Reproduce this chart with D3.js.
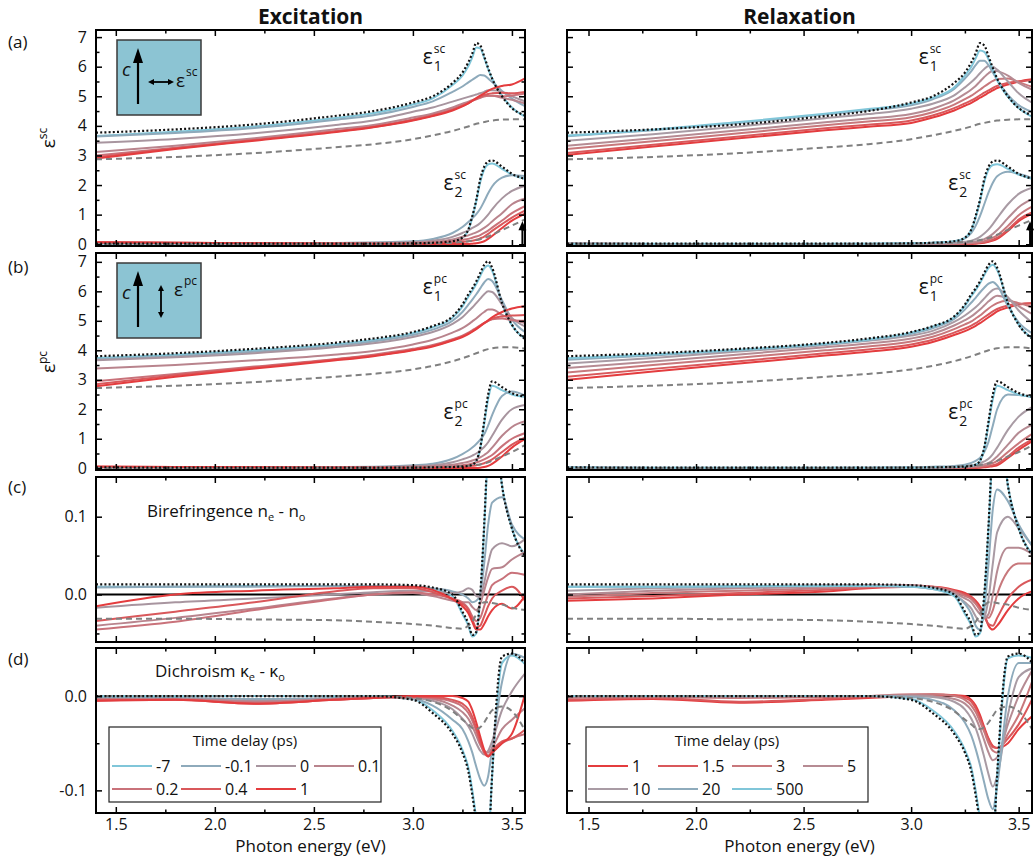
<!DOCTYPE html>
<html>
<head>
<meta charset="utf-8">
<script src="https://cdn.jsdelivr.net/npm/d3@7"></script>
<style>
  body { margin: 0; background: #fff; }
  svg text { font-family: "Open Sans", "DejaVu Sans", sans-serif; fill: #111; }
</style>
</head>
<body>
<svg id="chart" width="1035" height="856"></svg>
<script>
// photon energy grid (eV), shared by every curve
const energy = [1.4, 1.8, 2.2, 2.6, 2.8, 3.0, 3.1, 3.2, 3.25, 3.28, 3.3, 3.32, 3.34, 3.36, 3.38, 3.4, 3.45, 3.5, 3.57];

const excDelays = ['-7', '-0.1', '0', '0.1', '0.2', '0.4', '1'];
const relDelays = ['1', '1.5', '3', '5', '10', '20', '500'];
const excColors = ['#80c6d9', '#8eaabb', '#a8959f', '#b9848d', '#c9727a', '#d9585b', '#e43c3e'];
const relColors = ['#e43c3e', '#d9585b', '#c8787c', '#b68b93', '#a99ba4', '#8eabbc', '#80c6d9'];

// equilibrium (dotted black)
const eqS1 = [3.77, 3.88, 4.05, 4.33, 4.5, 4.79, 5.0, 5.45, 5.8, 6.15, 6.45, 6.8, 6.72, 6.35, 5.95, 5.6, 5.0, 4.6, 4.35];
const eqS2 = [0.02, 0.02, 0.02, 0.02, 0.02, 0.03, 0.05, 0.1, 0.22, 0.5, 0.95, 1.5, 2.2, 2.62, 2.8, 2.83, 2.62, 2.38, 2.2];
const eqP1 = [3.8, 3.9, 4.05, 4.25, 4.4, 4.62, 4.82, 5.15, 5.55, 5.9, 6.1, 6.34, 6.62, 6.9, 7.02, 6.8, 5.6, 4.87, 4.36];
const eqP2 = [0.03, 0.02, 0.02, 0.02, 0.02, 0.02, 0.03, 0.04, 0.06, 0.08, 0.12, 0.25, 0.7, 1.6, 2.5, 2.95, 2.75, 2.55, 2.42];
const eqBi = [0.013, 0.013, 0.013, 0.013, 0.013, 0.012, 0.009, 0.0, -0.022, -0.037, -0.052, -0.048, 0.0, 0.09, 0.2, 0.26, 0.14, 0.085, 0.048];
const eqDi = [0, 0, 0, 0, 0, -0.004, -0.018, -0.04, -0.06, -0.08, -0.105, -0.135, -0.17, -0.2, -0.17, -0.083, 0.042, 0.045, 0.034];

// hot reference (dashed grey)
const refS1 = [2.87, 2.95, 3.08, 3.27, 3.38, 3.55, 3.68, 3.83, 3.92, 3.98, 4.03, 4.07, 4.1, 4.13, 4.16, 4.18, 4.21, 4.22, 4.22];
const refS2 = [0.01, 0.01, 0.01, 0.01, 0.01, 0.02, 0.03, 0.05, 0.08, 0.1, 0.12, 0.14, 0.17, 0.21, 0.26, 0.32, 0.48, 0.63, 0.85];
const refP1 = [2.72, 2.8, 2.92, 3.1, 3.2, 3.35, 3.47, 3.63, 3.73, 3.8, 3.85, 3.9, 3.95, 4.0, 4.04, 4.07, 4.1, 4.1, 4.05];
const refP2 = [0.01, 0.01, 0.01, 0.01, 0.01, 0.02, 0.03, 0.05, 0.07, 0.08, 0.09, 0.11, 0.13, 0.16, 0.2, 0.25, 0.4, 0.55, 0.8];
const refBi = [-0.031, -0.031, -0.032, -0.033, -0.035, -0.038, -0.04, -0.043, -0.044, -0.04, -0.035, -0.025, -0.015, -0.01, -0.01, -0.011, -0.013, -0.017, -0.02];
const refDi = [0, 0, 0, 0, 0, -0.002, -0.006, -0.016, -0.025, -0.03, -0.034, -0.035, -0.033, -0.028, -0.021, -0.015, -0.011, -0.016, -0.038];

// excitation, one row per delay in excDelays order
const excS1 = [
  [3.66, 3.8, 3.98, 4.26, 4.43, 4.72, 4.93, 5.38, 5.7, 6.02, 6.32, 6.65, 6.62, 6.3, 5.92, 5.6, 5.02, 4.62, 4.3],
  [3.64, 3.76, 3.93, 4.2, 4.36, 4.64, 4.83, 5.15, 5.33, 5.47, 5.56, 5.65, 5.72, 5.7, 5.6, 5.48, 5.18, 4.92, 4.65],
  [3.43, 3.56, 3.75, 4.02, 4.18, 4.48, 4.62, 4.82, 4.92, 4.98, 5.02, 5.06, 5.1, 5.15, 5.2, 5.2, 5.15, 5.0, 4.82],
  [3.12, 3.33, 3.58, 3.88, 4.03, 4.28, 4.42, 4.62, 4.75, 4.82, 4.87, 4.92, 4.96, 5.0, 5.02, 5.02, 4.95, 4.88, 4.75],
  [3.0, 3.26, 3.53, 3.82, 3.98, 4.22, 4.37, 4.56, 4.7, 4.78, 4.85, 4.9, 4.95, 5.0, 5.02, 5.02, 5.0, 5.03, 5.1],
  [2.94, 3.24, 3.52, 3.8, 3.96, 4.2, 4.35, 4.54, 4.68, 4.77, 4.85, 4.92, 4.98, 5.04, 5.08, 5.1, 5.12, 5.1, 5.15],
  [2.9, 3.22, 3.5, 3.78, 3.95, 4.18, 4.33, 4.52, 4.66, 4.76, 4.85, 4.94, 5.02, 5.1, 5.18, 5.25, 5.35, 5.4, 5.62]
];
const excS2 = [
  [0.02, 0.02, 0.02, 0.02, 0.02, 0.03, 0.05, 0.1, 0.22, 0.48, 0.9, 1.45, 2.1, 2.52, 2.7, 2.73, 2.55, 2.35, 2.2],
  [0.03, 0.03, 0.03, 0.04, 0.06, 0.1, 0.18, 0.38, 0.58, 0.75, 0.88, 1.02, 1.2, 1.45, 1.72, 1.95, 2.25, 2.33, 2.3],
  [0.04, 0.03, 0.03, 0.04, 0.05, 0.07, 0.12, 0.25, 0.38, 0.47, 0.55, 0.62, 0.72, 0.85, 1.0, 1.18, 1.55, 1.8, 1.98],
  [0.05, 0.04, 0.03, 0.03, 0.04, 0.05, 0.08, 0.16, 0.25, 0.3, 0.35, 0.4, 0.47, 0.55, 0.65, 0.77, 1.05, 1.35, 1.55],
  [0.06, 0.05, 0.03, 0.02, 0.02, 0.03, 0.05, 0.1, 0.15, 0.18, 0.22, 0.26, 0.31, 0.38, 0.46, 0.56, 0.8, 1.05, 1.3],
  [0.07, 0.05, 0.03, 0.02, 0.02, 0.02, 0.03, 0.05, 0.08, 0.1, 0.12, 0.15, 0.2, 0.26, 0.35, 0.45, 0.68, 0.9, 1.15],
  [0.07, 0.05, 0.03, 0.02, 0.01, 0.01, 0.01, 0.01, 0.01, 0.01, 0.02, 0.03, 0.06, 0.1, 0.18, 0.28, 0.55, 0.8, 1.05]
];
const excP1 = [
  [3.74, 3.85, 4.0, 4.2, 4.35, 4.58, 4.78, 5.1, 5.48, 5.82, 6.02, 6.25, 6.52, 6.78, 6.88, 6.7, 5.58, 4.85, 4.38],
  [3.7, 3.8, 3.95, 4.15, 4.3, 4.52, 4.7, 5.0, 5.3, 5.55, 5.72, 5.9, 6.1, 6.3, 6.42, 6.35, 5.7, 5.05, 4.6],
  [3.66, 3.76, 3.9, 4.1, 4.24, 4.45, 4.62, 4.9, 5.12, 5.32, 5.45, 5.6, 5.75, 5.9, 6.0, 5.98, 5.55, 5.1, 4.8],
  [3.38, 3.5, 3.66, 3.85, 3.98, 4.2, 4.36, 4.6, 4.75, 4.88, 4.98, 5.08, 5.2, 5.3, 5.38, 5.38, 5.2, 5.05, 4.92],
  [2.95, 3.2, 3.45, 3.7, 3.85, 4.05, 4.18, 4.38, 4.5, 4.6, 4.68, 4.76, 4.85, 4.93, 5.0, 5.05, 5.08, 5.02, 5.0],
  [2.85, 3.15, 3.42, 3.68, 3.82, 4.02, 4.15, 4.35, 4.47, 4.57, 4.65, 4.74, 4.83, 4.92, 5.0, 5.07, 5.15, 5.18, 5.2],
  [2.78, 3.1, 3.38, 3.65, 3.8, 4.0, 4.13, 4.33, 4.45, 4.55, 4.63, 4.72, 4.82, 4.92, 5.02, 5.12, 5.3, 5.42, 5.5]
];
const excP2 = [
  [0.03, 0.02, 0.02, 0.02, 0.02, 0.02, 0.03, 0.04, 0.06, 0.08, 0.12, 0.24, 0.65, 1.5, 2.35, 2.8, 2.65, 2.5, 2.42],
  [0.03, 0.03, 0.03, 0.04, 0.05, 0.1, 0.15, 0.32, 0.48, 0.6, 0.7, 0.82, 0.97, 1.15, 1.45, 1.8, 2.45, 2.6, 2.45],
  [0.03, 0.03, 0.03, 0.03, 0.04, 0.07, 0.1, 0.2, 0.3, 0.37, 0.43, 0.5, 0.6, 0.72, 0.88, 1.1, 1.65, 2.0, 2.15],
  [0.03, 0.03, 0.03, 0.03, 0.03, 0.05, 0.07, 0.12, 0.18, 0.22, 0.26, 0.31, 0.37, 0.45, 0.55, 0.7, 1.1, 1.4, 1.6],
  [0.04, 0.03, 0.03, 0.02, 0.02, 0.03, 0.04, 0.06, 0.1, 0.13, 0.16, 0.2, 0.24, 0.3, 0.37, 0.45, 0.75, 1.0, 1.2],
  [0.05, 0.04, 0.03, 0.02, 0.02, 0.02, 0.02, 0.03, 0.05, 0.06, 0.08, 0.1, 0.13, 0.17, 0.23, 0.3, 0.55, 0.8, 1.05],
  [0.06, 0.04, 0.03, 0.02, 0.01, 0.01, 0.01, 0.01, 0.01, 0.01, 0.01, 0.01, 0.02, 0.04, 0.08, 0.15, 0.4, 0.7, 1.0]
];
const excBi = [
  [0.01, 0.01, 0.011, 0.011, 0.011, 0.01, 0.007, -0.002, -0.025, -0.04, -0.054, -0.05, -0.005, 0.085, 0.19, 0.25, 0.14, 0.085, 0.05],
  [0.009, 0.01, 0.01, 0.011, 0.011, 0.01, 0.008, 0.004, 0.0, -0.005, -0.01, -0.008, 0.0, 0.04, 0.09, 0.118, 0.125, 0.09, 0.07],
  [-0.017, -0.01, -0.005, 0.0, 0.003, 0.005, 0.004, 0.002, 0.004, 0.008, 0.006, -0.002, -0.003, 0.015, 0.04, 0.058, 0.066, 0.062, 0.072],
  [-0.04, -0.03, -0.018, -0.005, 0.0, 0.002, -0.002, -0.008, -0.01, -0.01, -0.016, -0.02, -0.012, 0.005, 0.022, 0.033, 0.035, 0.045, 0.055],
  [-0.045, -0.035, -0.02, -0.006, 0.0, 0.003, 0.0, -0.005, -0.01, -0.018, -0.028, -0.034, -0.03, -0.015, 0.0, 0.012, 0.02, 0.028, 0.025],
  [-0.034, -0.022, -0.01, 0.004, 0.008, 0.008, 0.003, -0.006, -0.012, -0.02, -0.032, -0.042, -0.04, -0.028, -0.015, -0.005, 0.005, 0.01, -0.01],
  [-0.015, 0.0, 0.005, 0.008, 0.01, 0.01, 0.006, -0.006, -0.015, -0.024, -0.035, -0.045, -0.045, -0.038, -0.028, -0.02, -0.012, -0.018, 0.0]
];
const excDi = [
  [0, 0, 0, 0, 0, -0.003, -0.015, -0.037, -0.057, -0.076, -0.1, -0.13, -0.16, -0.18, -0.16, -0.085, 0.035, 0.043, 0.033],
  [-0.002, -0.002, -0.003, -0.002, -0.001, -0.003, -0.01, -0.025, -0.035, -0.048, -0.06, -0.075, -0.088, -0.095, -0.085, -0.055, 0.015, 0.045, 0.04],
  [-0.003, -0.003, -0.005, -0.003, -0.001, -0.002, -0.005, -0.014, -0.024, -0.032, -0.04, -0.05, -0.058, -0.062, -0.058, -0.048, -0.015, 0.005, 0.025],
  [-0.003, -0.003, -0.006, -0.003, -0.001, -0.001, -0.003, -0.01, -0.017, -0.024, -0.032, -0.042, -0.052, -0.058, -0.06, -0.055, -0.035, -0.025, -0.012],
  [-0.004, -0.004, -0.007, -0.004, -0.002, -0.001, -0.002, -0.006, -0.011, -0.018, -0.026, -0.037, -0.05, -0.06, -0.063, -0.06, -0.05, -0.045, -0.04],
  [-0.005, -0.004, -0.008, -0.004, -0.002, -0.001, -0.001, -0.004, -0.008, -0.014, -0.022, -0.034, -0.048, -0.06, -0.064, -0.058, -0.048, -0.045, -0.035],
  [-0.005, -0.004, -0.008, -0.004, -0.002, 0.0, 0.0, 0.0, -0.002, -0.006, -0.015, -0.028, -0.043, -0.057, -0.064, -0.06, -0.05, -0.04, 0.005]
];

// relaxation, one row per delay in relDelays order
const relS1 = [
  [3.02, 3.3, 3.58, 3.85, 3.97, 4.1, 4.28, 4.52, 4.68, 4.78, 4.86, 4.95, 5.03, 5.12, 5.2, 5.28, 5.4, 5.5, 5.58],
  [3.08, 3.36, 3.64, 3.92, 4.04, 4.18, 4.35, 4.6, 4.76, 4.86, 4.94, 5.03, 5.12, 5.2, 5.28, 5.35, 5.45, 5.5, 5.55],
  [3.22, 3.48, 3.75, 4.02, 4.15, 4.29, 4.46, 4.72, 4.9, 5.02, 5.12, 5.22, 5.33, 5.43, 5.52, 5.58, 5.6, 5.48, 5.3],
  [3.33, 3.58, 3.85, 4.12, 4.25, 4.4, 4.58, 4.86, 5.08, 5.23, 5.35, 5.5, 5.65, 5.78, 5.86, 5.85, 5.7, 5.45, 5.2],
  [3.5, 3.72, 3.98, 4.26, 4.4, 4.58, 4.75, 5.03, 5.3, 5.48, 5.62, 5.78, 5.92, 6.02, 6.0, 5.9, 5.5, 5.1, 4.75],
  [3.65, 3.85, 4.1, 4.38, 4.53, 4.7, 4.9, 5.25, 5.6, 5.85, 6.05, 6.2, 6.2, 6.05, 5.8, 5.55, 5.05, 4.7, 4.45],
  [3.67, 3.87, 4.13, 4.41, 4.57, 4.75, 4.95, 5.3, 5.7, 6.0, 6.28, 6.55, 6.5, 6.25, 5.9, 5.55, 4.98, 4.6, 4.27]
];
const relS2 = [
  [0.02, 0.01, 0.01, 0.01, 0.01, 0.01, 0.01, 0.01, 0.01, 0.01, 0.02, 0.03, 0.05, 0.08, 0.12, 0.18, 0.45, 0.78, 1.05],
  [0.02, 0.01, 0.01, 0.01, 0.01, 0.01, 0.01, 0.01, 0.02, 0.02, 0.03, 0.05, 0.07, 0.1, 0.15, 0.22, 0.5, 0.83, 1.1],
  [0.02, 0.01, 0.01, 0.01, 0.01, 0.01, 0.01, 0.02, 0.03, 0.04, 0.05, 0.07, 0.1, 0.15, 0.22, 0.3, 0.62, 0.98, 1.3],
  [0.02, 0.01, 0.01, 0.01, 0.01, 0.01, 0.02, 0.03, 0.05, 0.07, 0.09, 0.12, 0.17, 0.25, 0.35, 0.48, 0.88, 1.25, 1.55],
  [0.02, 0.01, 0.01, 0.01, 0.01, 0.02, 0.03, 0.05, 0.08, 0.12, 0.17, 0.25, 0.36, 0.5, 0.68, 0.88, 1.35, 1.7, 1.92],
  [0.02, 0.01, 0.01, 0.01, 0.02, 0.03, 0.05, 0.1, 0.2, 0.38, 0.62, 0.95, 1.35, 1.75, 2.08, 2.3, 2.45, 2.38, 2.22],
  [0.02, 0.02, 0.02, 0.02, 0.02, 0.03, 0.05, 0.1, 0.22, 0.48, 0.9, 1.45, 2.1, 2.52, 2.68, 2.7, 2.55, 2.35, 2.2]
];
const relP1 = [
  [3.0, 3.28, 3.55, 3.82, 3.95, 4.12, 4.28, 4.52, 4.65, 4.75, 4.83, 4.92, 5.02, 5.12, 5.22, 5.32, 5.45, 5.55, 5.6],
  [3.1, 3.37, 3.63, 3.9, 4.03, 4.2, 4.36, 4.6, 4.74, 4.84, 4.92, 5.02, 5.12, 5.22, 5.32, 5.4, 5.52, 5.58, 5.6],
  [3.25, 3.5, 3.75, 4.0, 4.13, 4.3, 4.46, 4.72, 4.88, 4.98, 5.08, 5.18, 5.3, 5.42, 5.52, 5.6, 5.68, 5.6, 5.45],
  [3.4, 3.62, 3.86, 4.1, 4.23, 4.4, 4.56, 4.84, 5.02, 5.15, 5.26, 5.38, 5.52, 5.66, 5.78, 5.85, 5.75, 5.5, 5.2],
  [3.55, 3.74, 3.96, 4.18, 4.32, 4.5, 4.66, 4.96, 5.18, 5.34, 5.46, 5.6, 5.76, 5.92, 6.05, 6.1, 5.8, 5.35, 4.9],
  [3.68, 3.82, 4.0, 4.2, 4.34, 4.56, 4.75, 5.06, 5.38, 5.62, 5.78, 5.96, 6.12, 6.26, 6.32, 6.2, 5.5, 4.95, 4.55],
  [3.73, 3.86, 4.02, 4.22, 4.37, 4.6, 4.8, 5.12, 5.5, 5.84, 6.04, 6.27, 6.55, 6.8, 6.9, 6.72, 5.6, 4.87, 4.38]
];
const relP2 = [
  [0.02, 0.01, 0.01, 0.01, 0.01, 0.01, 0.01, 0.01, 0.01, 0.01, 0.01, 0.02, 0.03, 0.05, 0.07, 0.1, 0.35, 0.62, 0.95],
  [0.02, 0.01, 0.01, 0.01, 0.01, 0.01, 0.01, 0.01, 0.01, 0.02, 0.02, 0.03, 0.05, 0.07, 0.1, 0.15, 0.4, 0.7, 1.0],
  [0.02, 0.01, 0.01, 0.01, 0.01, 0.01, 0.01, 0.02, 0.03, 0.04, 0.05, 0.06, 0.08, 0.11, 0.17, 0.25, 0.55, 0.85, 1.2],
  [0.02, 0.01, 0.01, 0.01, 0.01, 0.01, 0.02, 0.03, 0.05, 0.06, 0.08, 0.1, 0.13, 0.18, 0.27, 0.4, 0.8, 1.2, 1.5],
  [0.02, 0.01, 0.01, 0.01, 0.02, 0.02, 0.03, 0.05, 0.08, 0.1, 0.13, 0.17, 0.23, 0.32, 0.48, 0.7, 1.3, 1.75, 2.1],
  [0.02, 0.02, 0.02, 0.02, 0.02, 0.03, 0.05, 0.08, 0.12, 0.18, 0.25, 0.35, 0.55, 0.9, 1.45, 2.0, 2.5, 2.48, 2.4],
  [0.03, 0.02, 0.02, 0.02, 0.02, 0.02, 0.03, 0.04, 0.06, 0.08, 0.12, 0.24, 0.65, 1.5, 2.35, 2.8, 2.65, 2.5, 2.42]
];
const relBi = [
  [-0.008, -0.005, 0.0, 0.004, 0.008, 0.01, 0.01, 0.006, 0.002, -0.003, -0.008, -0.015, -0.025, -0.04, -0.045, -0.04, -0.02, -0.005, 0.005],
  [-0.005, -0.002, 0.002, 0.006, 0.009, 0.011, 0.01, 0.005, 0.0, -0.004, -0.01, -0.018, -0.028, -0.038, -0.04, -0.03, -0.005, 0.01, 0.02],
  [-0.003, 0.002, 0.005, 0.008, 0.01, 0.012, 0.01, 0.004, -0.002, -0.006, -0.012, -0.02, -0.028, -0.03, -0.02, 0.0, 0.03, 0.04, 0.04],
  [0.0, 0.005, 0.008, 0.01, 0.012, 0.012, 0.008, 0.002, -0.005, -0.01, -0.018, -0.025, -0.03, -0.025, 0.0, 0.03, 0.06, 0.06, 0.05],
  [0.005, 0.008, 0.01, 0.012, 0.012, 0.01, 0.007, 0.0, -0.01, -0.018, -0.028, -0.035, -0.03, -0.005, 0.04, 0.08, 0.1, 0.085, 0.06],
  [0.01, 0.01, 0.01, 0.011, 0.011, 0.01, 0.008, 0.0, -0.012, -0.025, -0.04, -0.045, -0.02, 0.04, 0.11, 0.135, 0.12, 0.09, 0.06],
  [0.01, 0.01, 0.011, 0.011, 0.011, 0.01, 0.007, -0.002, -0.025, -0.04, -0.054, -0.05, -0.005, 0.085, 0.19, 0.25, 0.14, 0.085, 0.05]
];
const relDi = [
  [-0.005, -0.003, -0.007, -0.004, -0.002, 0.0, 0.001, 0.001, 0.0, -0.004, -0.01, -0.02, -0.033, -0.045, -0.053, -0.055, -0.05, -0.035, -0.02],
  [-0.004, -0.002, -0.006, -0.003, -0.001, 0.001, 0.002, 0.001, -0.002, -0.006, -0.013, -0.023, -0.035, -0.046, -0.054, -0.055, -0.045, -0.03, 0.0],
  [-0.002, -0.001, -0.002, -0.001, 0.0, 0.002, 0.002, 0.0, -0.004, -0.01, -0.017, -0.027, -0.038, -0.05, -0.058, -0.06, -0.04, -0.02, 0.02],
  [-0.001, 0.0, -0.001, 0.0, 0.0, 0.001, 0.0, -0.003, -0.008, -0.015, -0.023, -0.034, -0.047, -0.06, -0.068, -0.065, -0.03, 0.0, 0.03],
  [0.0, 0.0, 0.0, 0.0, 0.0, 0.0, -0.001, -0.006, -0.014, -0.024, -0.034, -0.048, -0.065, -0.083, -0.096, -0.085, -0.02, 0.02, 0.03],
  [0.0, 0.0, 0.0, 0.0, 0.0, -0.001, -0.004, -0.015, -0.028, -0.042, -0.056, -0.073, -0.092, -0.11, -0.12, -0.095, 0.0, 0.035, 0.035],
  [0, 0, 0, 0, 0, -0.003, -0.015, -0.037, -0.057, -0.076, -0.1, -0.13, -0.16, -0.18, -0.16, -0.085, 0.04, 0.043, 0.04]
];

const xMajor = [1.5, 2.0, 2.5, 3.0, 3.5];
const xMinor = [1.75, 2.25, 2.75, 3.25];
const epsMajor = [0, 1, 2, 3, 4, 5, 6, 7];
const epsMinor = [0.5, 1.5, 2.5, 3.5, 4.5, 5.5, 6.5];

// layout
const cols = [
  { l: 96, r: 525, max: 3.566, delays: excDelays, colors: excColors, title: 'Excitation', e1: 3.05, e2: 3.155 },
  { l: 567, r: 1032, max: 3.562, delays: relDelays, colors: relColors, title: 'Relaxation', e1: 3.035, e2: 3.173 }
];
const rows = [
  { t: 30, b: 246, dom: [-0.06, 7.24], major: epsMajor, minor: epsMinor, fmt: d3.format('d'), label: '(a)', labelY: 48 },
  { t: 253, b: 470, dom: [-0.06, 7.3], major: epsMajor, minor: epsMinor, fmt: d3.format('d'), label: '(b)', labelY: 273 },
  { t: 477, b: 642, dom: [-0.061, 0.151], major: [0, 0.1], minor: [-0.05, 0.05], fmt: d3.format('.1f'), label: '(c)', labelY: 493 },
  { t: 648, b: 813, dom: [-0.124, 0.051], major: [-0.1, 0], minor: [-0.05], fmt: d => d3.format('.1f')(d).replace('−', '-'), label: '(d)', labelY: 665 }
];
const panelSets = [
  [[excS1, eqS1, refS1], [excS2, eqS2, refS2]],
  [[excP1, eqP1, refP1], [excP2, eqP2, refP2]],
  [[excBi, eqBi, refBi]],
  [[excDi, eqDi, refDi]]
];
const relSets = [
  [[relS1, eqS1, refS1], [relS2, eqS2, refS2]],
  [[relP1, eqP1, refP1], [relP2, eqP2, refP2]],
  [[relBi, eqBi, refBi]],
  [[relDi, eqDi, refDi]]
];

const svg = d3.select('#chart');

function drawArrow(g, x1, y1, x2, y2, hl, hw, sw) {
  const ang = Math.atan2(y2 - y1, x2 - x1);
  const bx = x2 - hl * Math.cos(ang), by = y2 - hl * Math.sin(ang);
  g.append('line')
    .attr('x1', x1).attr('y1', y1).attr('x2', bx).attr('y2', by)
    .attr('stroke', '#000').attr('stroke-width', sw);
  const px = -Math.sin(ang) * hw / 2, py = Math.cos(ang) * hw / 2;
  g.append('polygon')
    .attr('points', `${x2},${y2} ${bx + px},${by + py} ${bx - px},${by - py}`)
    .attr('fill', '#000');
}

function styleAxis(g) {
  g.select('.domain').remove();
  g.selectAll('line').attr('stroke', '#000').attr('stroke-width', 1.5);
  g.attr('font-family', null).attr('font-size', null);
  g.selectAll('text').attr('font-size', 16).attr('fill', '#111');
}

// epsilon with stacked sub/superscript, e.g. ε₁^sc
function epsLabel(g, x, y, sub, sup) {
  g.append('text').attr('x', x).attr('y', y).attr('font-size', 21).text('ε');
  g.append('text').attr('x', x + 11).attr('y', y - 11).attr('font-size', 12).text(sup);
  g.append('text').attr('x', x + 11).attr('y', y + 7).attr('font-size', 14).text(sub);
}

cols.forEach((c, ci) => {
  const x = d3.scaleLinear().domain([1.4, c.max]).range([c.l, c.r]);
  svg.append('text')
    .attr('x', (c.l + c.r) / 2).attr('y', 24)
    .attr('text-anchor', 'middle')
    .attr('font-size', 21).attr('font-weight', 'bold')
    .text(c.title);

  rows.forEach((r, ri) => {
    const y = d3.scaleLinear().domain(r.dom).range([r.b, r.t]);
    const id = `clip-${ci}-${ri}`;
    svg.append('clipPath').attr('id', id)
      .append('rect')
      .attr('x', c.l).attr('y', r.t)
      .attr('width', c.r - c.l).attr('height', r.b - r.t);
    const g = svg.append('g').attr('clip-path', `url(#${id})`);

    if (ri >= 2) {
      g.append('line')
        .attr('x1', c.l).attr('x2', c.r)
        .attr('y1', y(0)).attr('y2', y(0))
        .attr('stroke', '#000').attr('stroke-width', 2);
    }

    const line = d3.line()
      .x(d => x(d[0])).y(d => y(d[1]))
      .curve(d3.curveMonotoneX);
    const sets = ci === 0 ? panelSets[ri] : relSets[ri];
    sets.forEach(([curves, eq, ref]) => {
      curves.forEach((vals, i) => {
        g.append('path')
          .datum(energy.map((e, j) => [e, vals[j]]))
          .attr('d', line)
          .attr('fill', 'none')
          .attr('stroke', c.colors[i])
          .attr('stroke-width', 2)
          .attr('stroke-linejoin', 'round');
      });
      g.append('path')
        .datum(energy.map((e, j) => [e, ref[j]]))
        .attr('d', line)
        .attr('fill', 'none')
        .attr('stroke', '#808080')
        .attr('stroke-width', 2)
        .attr('stroke-dasharray', '6,4');
      g.append('path')
        .datum(energy.map((e, j) => [e, eq[j]]))
        .attr('d', line)
        .attr('fill', 'none')
        .attr('stroke', '#111')
        .attr('stroke-width', 2.2)
        .attr('stroke-dasharray', '2,2.2');
    });

    // frame
    svg.append('rect')
      .attr('x', c.l).attr('y', r.t)
      .attr('width', c.r - c.l).attr('height', r.b - r.t)
      .attr('fill', 'none').attr('stroke', '#000').attr('stroke-width', 2);

    // ticks on all four sides, pointing inward
    const showX = ri === 3;
    const bottom = svg.append('g').attr('transform', `translate(0,${r.b})`)
      .call(d3.axisBottom(x).tickValues(xMajor).tickSize(-6).tickPadding(6)
        .tickFormat(showX ? d3.format('.1f') : () => ''));
    styleAxis(bottom);
    const bottomMinor = svg.append('g').attr('transform', `translate(0,${r.b})`)
      .call(d3.axisBottom(x).tickValues(xMinor).tickSize(-3.5).tickFormat(() => ''));
    styleAxis(bottomMinor);
    const top = svg.append('g').attr('transform', `translate(0,${r.t})`)
      .call(d3.axisTop(x).tickValues(xMajor).tickSize(-6).tickFormat(() => ''));
    styleAxis(top);
    const topMinor = svg.append('g').attr('transform', `translate(0,${r.t})`)
      .call(d3.axisTop(x).tickValues(xMinor).tickSize(-3.5).tickFormat(() => ''));
    styleAxis(topMinor);

    const left = svg.append('g').attr('transform', `translate(${c.l},0)`)
      .call(d3.axisLeft(y).tickValues(r.major).tickSize(-6).tickPadding(9)
        .tickFormat(ci === 0 ? r.fmt : () => ''));
    styleAxis(left);
    const leftMinor = svg.append('g').attr('transform', `translate(${c.l},0)`)
      .call(d3.axisLeft(y).tickValues(r.minor).tickSize(-3.5).tickFormat(() => ''));
    styleAxis(leftMinor);
    const right = svg.append('g').attr('transform', `translate(${c.r},0)`)
      .call(d3.axisRight(y).tickValues(r.major).tickSize(-6).tickFormat(() => ''));
    styleAxis(right);
    const rightMinor = svg.append('g').attr('transform', `translate(${c.r},0)`)
      .call(d3.axisRight(y).tickValues(r.minor).tickSize(-3.5).tickFormat(() => ''));
    styleAxis(rightMinor);

    if (showX) {
      svg.append('text')
        .attr('x', (c.l + c.r) / 2).attr('y', 852)
        .attr('text-anchor', 'middle').attr('font-size', 17)
        .text('Photon energy (eV)');
    }

    const ann = svg.append('g');
    if (ri === 0 || ri === 1) {
      const sup = ri === 0 ? 'sc' : 'pc';
      epsLabel(ann, x(c.e1), r.t + (ri === 0 ? 34 : 41), '1', sup);
      epsLabel(ann, x(c.e2), r.t + (ri === 0 ? 160 : 166), '2', sup);
    }
    if (ri === 0) {
      drawArrow(ann, x(3.553), y(0), x(3.553), y(0.78), 9, 8, 2);
    }

    if (ci === 0) {
      svg.append('text').attr('x', 8).attr('y', r.labelY)
        .attr('font-size', 17).text(r.label);
    }
  });
});

// y-axis titles
[['sc', 138], ['pc', 362]].forEach(([sup, cy]) => {
  const t = svg.append('text')
    .attr('transform', `translate(55,${cy}) rotate(-90)`)
    .attr('text-anchor', 'middle').attr('font-size', 19);
  t.append('tspan').text('ε');
  t.append('tspan').attr('font-size', 12).attr('dy', -8).text(sup);
});

// insets showing c axis and probe polarisation
[[30, 'sc'], [253, 'pc']].forEach(([t0, sup]) => {
  const bx = cols[0].l + 21, by = t0 + 10;
  const g = svg.append('g');
  g.append('rect').attr('x', bx).attr('y', by).attr('width', 84).attr('height', 75)
    .attr('fill', '#8cc4d3').attr('stroke', '#3a3a3a').attr('stroke-width', 1.5);
  drawArrow(g, bx + 21, by + 64, bx + 21, by + 8, 15, 10, 2.2);
  g.append('text').attr('x', bx + 5).attr('y', by + 36)
    .attr('font-size', 19).attr('font-style', 'italic').text('c');
  if (sup === 'sc') {
    drawArrow(g, bx + 44, by + 42, bx + 31, by + 42, 6, 6, 1.8);
    drawArrow(g, bx + 44, by + 42, bx + 57, by + 42, 6, 6, 1.8);
    g.append('text').attr('x', bx + 59).attr('y', by + 47).attr('font-size', 19).text('ε');
    g.append('text').attr('x', bx + 69).attr('y', by + 36).attr('font-size', 12).text(sup);
  } else {
    drawArrow(g, bx + 44, by + 38, bx + 44, by + 22, 6, 6, 1.8);
    drawArrow(g, bx + 44, by + 38, bx + 44, by + 55, 6, 6, 1.8);
    g.append('text').attr('x', bx + 57).attr('y', by + 33).attr('font-size', 19).text('ε');
    g.append('text').attr('x', bx + 67).attr('y', by + 22).attr('font-size', 12).text(sup);
  }
});

// panel (c)/(d) annotations
const bi = svg.append('text').attr('x', cols[0].l + 51).attr('y', 517).attr('font-size', 17);
bi.append('tspan').text('Birefringence  n');
bi.append('tspan').attr('font-size', 11).attr('dy', 4).text('e');
bi.append('tspan').attr('dy', -4).text(' - n');
bi.append('tspan').attr('font-size', 11).attr('dy', 4).text('o');
const di = svg.append('text').attr('x', cols[0].l + 59).attr('y', 677).attr('font-size', 17);
di.append('tspan').text('Dichroism  κ');
di.append('tspan').attr('font-size', 11).attr('dy', 4).text('e');
di.append('tspan').attr('dy', -4).text(' - κ');
di.append('tspan').attr('font-size', 11).attr('dy', 4).text('o');

// legends
const legendCols = [[3, 72, 147, 205], [2, 72, 146, 217]];
const legendW = [272, 282];
cols.forEach((c, ci) => {
  const lx = c.l + (ci === 0 ? 13 : 19), ly = 727;
  const g = svg.append('g');
  g.append('rect').attr('x', lx).attr('y', ly).attr('width', legendW[ci]).attr('height', 75)
    .attr('fill', '#fff').attr('stroke', '#222').attr('stroke-width', 1.2);
  g.append('text').attr('x', lx + legendW[ci] / 2).attr('y', ly + 19)
    .attr('text-anchor', 'middle').attr('font-size', 15).text('Time delay (ps)');
  c.delays.forEach((d, i) => {
    const row = Math.floor(i / 4), col = i % 4;
    const ex = lx + legendCols[ci][col], ey = ly + 39 + row * 23;
    g.append('line').attr('x1', ex).attr('x2', ex + 40).attr('y1', ey).attr('y2', ey)
      .attr('stroke', c.colors[i]).attr('stroke-width', 2);
    g.append('text').attr('x', ex + 44).attr('y', ey + 6).attr('font-size', 16).text(d);
  });
});
</script>
</body>
</html>
